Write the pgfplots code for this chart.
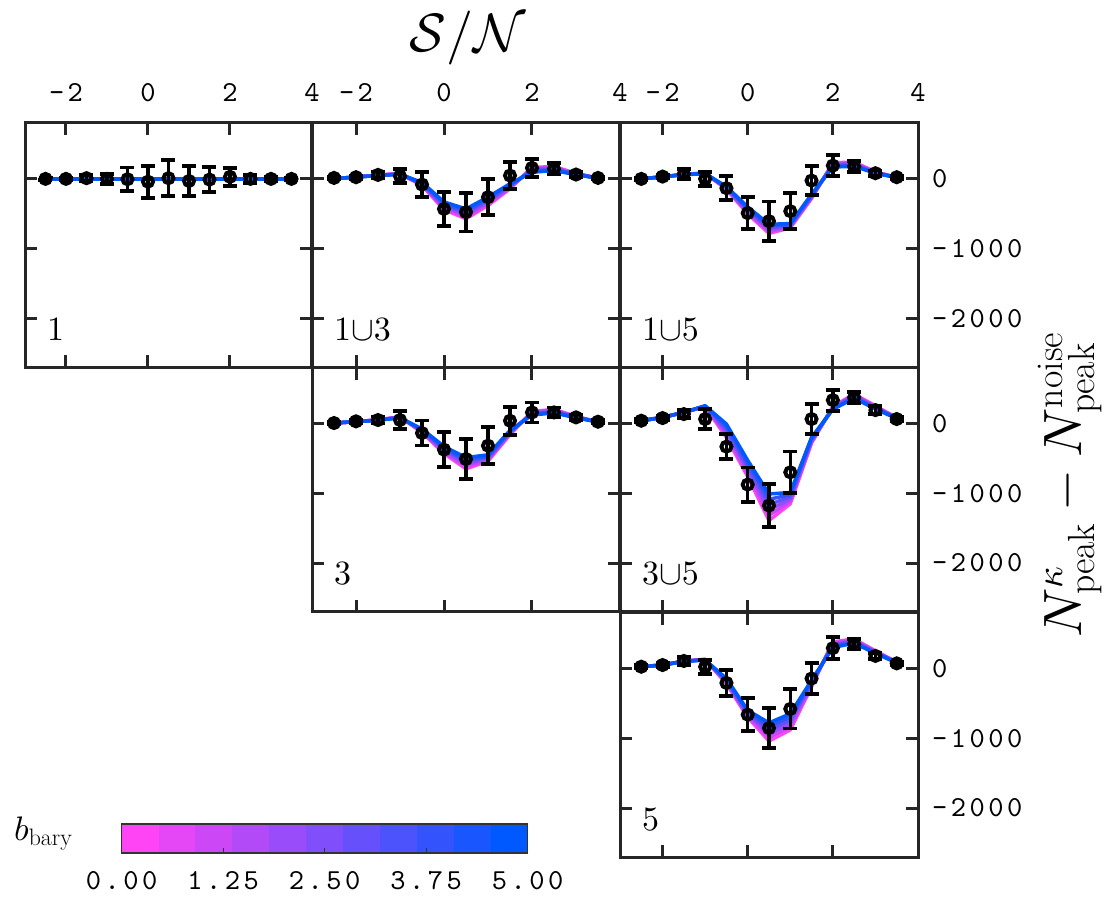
\documentclass[border=0pt]{standalone}
\usepackage{fontspec}
\setmonofont{lmmono10-regular.otf}[LetterSpace=12]
\DeclareFontFamily{OML}{cmm}{\skewchar\font127}
\DeclareFontShape{OML}{cmm}{m}{it}{<->cmmi10}{}
\DeclareFontFamily{OMS}{cmsy}{\skewchar\font48}
\DeclareFontShape{OMS}{cmsy}{m}{n}{<->cmsy10}{}
\DeclareFontFamily{OT1}{cmr}{\hyphenchar\font45}
\DeclareFontShape{OT1}{cmr}{m}{n}{<->cmr10}{}
\usepackage{pgfplots}
\usepackage{pgfplotstable}
\pgfplotsset{compat=1.18}

\definecolor{bmag}{RGB}{255,68,245}
\definecolor{bblue}{RGB}{0,88,255}
\colorlet{c0}{bmag}
\colorlet{c1}{bblue!10!bmag}
\colorlet{c2}{bblue!20!bmag}
\colorlet{c3}{bblue!30!bmag}
\colorlet{c4}{bblue!40!bmag}
\colorlet{c5}{bblue!50!bmag}
\colorlet{c6}{bblue!60!bmag}
\colorlet{c7}{bblue!70!bmag}
\colorlet{c8}{bblue!80!bmag}
\colorlet{c9}{bblue!90!bmag}
\colorlet{c10}{bblue}

\newcommand\ticksfont{\fontsize{29}{29}\selectfont\ttfamily}

% panel 1
\pgfplotstableread{
x y e m0 m1 m2 m3 m4 m5
-2.5 0 20 0 0 0 0 0 0
-2.0 0 20 0 0 0 0 0 0
-1.5 10 40 0 0 0 0 0 0
-1.0 0 70 0 0 0 0 0 0
-0.5 -5 167 0 0 0 0 0 0
0.0 -40 230 0 0 0 0 0 0
0.5 10 257 0 0 0 0 0 0
1.0 -30 220 0 0 0 0 0 0
1.5 -10 180 0 0 0 0 0 0
2.0 30 130 0 0 0 0 0 0
2.5 0 60 0 0 0 0 0 0
3.0 0 25 0 0 0 0 0 0
3.5 0 20 0 0 0 0 0 0
}\tabA
% panel 1 u 3
\pgfplotstableread{
x y e m0 m1 m2 m3 m4 m5
-2.5 14 20 5 5 5 5 5 5
-2.0 24 25 25 25 25 25 25 25
-1.5 57 50 55 54 53 52 51 50
-1.0 38 100 75 73 71 69 67 65
-0.5 -81 180 -95 -86 -77 -68 -59 -50
0.0 -430 245 -440 -418 -396 -374 -352 -330
0.5 -476 276 -570 -542 -514 -486 -458 -430
1.0 -262 257 -380 -356 -332 -308 -284 -260
1.5 48 190 -140 -126 -112 -98 -84 -70
2.0 157 130 165 151 137 123 109 95
2.5 143 80 175 164 153 142 131 120
3.0 62 40 80 76 72 68 64 60
3.5 14 20 10 10 10 10 10 10
}\tabB
% panel 1 u 5
\pgfplotstableread{
x y e m0 m1 m2 m3 m4 m5
-2.5 0 20 0 0 0 0 0 0
-2.0 33 25 30 30 30 30 30 30
-1.5 71 70 65 64 63 62 61 60
-1.0 0 100 85 83 81 79 77 75
-0.5 -133 175 -150 -142 -134 -126 -118 -110
0.0 -490 230 -500 -480 -460 -440 -420 -400
0.5 -605 280 -780 -754 -728 -702 -676 -650
1.0 -462 260 -700 -688 -676 -664 -652 -640
1.5 -24 205 -280 -268 -256 -244 -232 -220
2.0 190 150 230 218 206 194 182 170
2.5 176 80 240 228 216 204 192 180
3.0 81 40 100 96 92 88 84 80
3.5 24 20 20 20 20 20 20 20
}\tabC
% panel 3
\pgfplotstableread{
x y e m0 m1 m2 m3 m4 m5
-2.5 5 20 5 5 5 5 5 5
-2.0 29 25 25 25 25 25 25 25
-1.5 48 50 50 49 48 47 46 45
-1.0 48 125 95 92 89 86 83 80
-0.5 -138 180 -130 -120 -110 -100 -90 -80
0.0 -376 250 -430 -410 -390 -370 -350 -330
0.5 -510 290 -650 -618 -586 -554 -522 -490
1.0 -319 262 -540 -522 -504 -486 -468 -450
1.5 38 200 -160 -148 -136 -124 -112 -100
2.0 157 143 170 160 150 140 130 120
2.5 157 70 200 190 180 170 160 150
3.0 86 40 100 96 92 88 84 80
3.5 24 20 20 20 20 20 20 20
}\tabD
% panel 3 u 5
\pgfplotstableread{
x y e m0 m1 m2 m3 m4 m5
-2.5 38 25 38 38 38 38 38 38
-2.0 76 30 86 86 86 86 86 86
-1.5 133 60 157 157 157 157 157 157
-1.0 62 140 240 242 245 247 250 252
-0.5 -333 181 -200 -162 -124 -86 -48 -10
0.0 -876 245 -760 -714 -668 -622 -576 -530
0.5 -1176 310 -1390 -1314 -1238 -1162 -1086 -1010
1.0 -700 298 -1150 -1118 -1086 -1054 -1022 -990
1.5 62 219 -280 -264 -248 -232 -216 -200
2.0 333 150 240 232 224 216 208 200
2.5 371 80 420 408 396 384 372 360
3.0 190 60 250 241 232 223 214 205
3.5 62 25 80 78 76 74 72 70
}\tabE
% panel 5
\pgfplotstableread{
x y e m0 m1 m2 m3 m4 m5
-2.5 24 20 24 24 24 24 24 24
-2.0 48 25 48 48 48 48 48 48
-1.5 106 60 105 104 103 102 101 100
-1.0 24 100 130 128 126 124 122 120
-0.5 -208 190 -220 -205 -190 -175 -160 -145
0.0 -662 240 -700 -680 -660 -640 -620 -600
0.5 -855 290 -1040 -988 -936 -884 -832 -780
1.0 -580 280 -880 -834 -788 -742 -696 -650
1.5 -145 218 -260 -242 -224 -206 -188 -170
2.0 290 157 380 364 348 332 316 300
2.5 348 70 420 408 396 384 372 360
3.0 179 40 250 243 236 229 222 215
3.5 72 25 90 88 86 84 82 80
}\tabF

\pgfplotsset{
  panel/.style={
    scale only axis, height=244.5pt, anchor=north west,
    xmin=-3, xmax=4, ymin=-2700, ymax=800,
    xtick={-2,0,2,4}, ytick={-2000,-1000,0},
    xticklabels={}, yticklabels={},
    tick align=inside, major tick length=12pt,
    xtick pos=both, ytick pos=both,
    axis line style={line width=3pt, draw=black!85},
    major tick style={line width=3pt, draw=black!85},
    tick label style={font=\ticksfont},
  },
  toplab/.style={xticklabels={-2,0,2,4}, xticklabel pos=upper,
    xticklabel style={anchor=base, inner sep=0pt, yshift=21pt}},
  rightlab/.style={yticklabels={-2000,-1000,0}, yticklabel pos=upper,
    yticklabel style={anchor=west, inner sep=0pt, xshift=14pt}},
  model/.style={line width=3.5pt, line join=round, no marks},
}

\newcommand{\drawpanel}[1]{%
  \addplot[model, c0] table[x=x,y=m0]{#1};
  \addplot[model, c2] table[x=x,y=m1]{#1};
  \addplot[model, c4] table[x=x,y=m2]{#1};
  \addplot[model, c6] table[x=x,y=m3]{#1};
  \addplot[model, c8] table[x=x,y=m4]{#1};
  \addplot[model, c10] table[x=x,y=m5]{#1};
  \addplot[black, only marks, mark=o, mark size=5pt, line width=4pt,
    error bars/.cd, y dir=both, y explicit,
    error bar style={line width=3.5pt, black},
    error mark options={rotate=90, mark size=7pt, line width=3.8pt, black}]
    table[x=x,y=y,y error=e]{#1};
}
\newcommand{\plab}[1]{\node[anchor=base west, inner sep=0pt, font=\fontsize{34}{34}\selectfont]
  at (axis description cs:0,0) [xshift=22pt, yshift=27pt] {#1};}

\begin{document}
\begin{tikzpicture}[x=1pt,y=1pt]
\path[use as bounding box] (0,0) rectangle (1109,-901);

% row 1
\begin{axis}[panel, toplab, width=287pt, at={(25pt,-123pt)}]
\drawpanel{\tabA}
\plab{$1$}
\end{axis}
\begin{axis}[panel, toplab, width=308pt, at={(312pt,-123pt)}]
\drawpanel{\tabB}
\plab{$1{\cup}3$}
\end{axis}
\begin{axis}[panel, toplab, rightlab, width=298pt, at={(620pt,-123pt)}]
\drawpanel{\tabC}
\plab{$1{\cup}5$}
\end{axis}
% row 2
\begin{axis}[panel, width=308pt, at={(312pt,-367.5pt)}]
\drawpanel{\tabD}
\plab{$3$}
\end{axis}
\begin{axis}[panel, rightlab, width=298pt, at={(620pt,-367.5pt)}]
\drawpanel{\tabE}
\plab{$3{\cup}5$}
\end{axis}
% row 3
\begin{axis}[panel, rightlab, width=298pt, at={(620pt,-612.5pt)}]
\drawpanel{\tabF}
\plab{$5$}
\end{axis}

% colorbar
\begin{axis}[scale only axis, anchor=north west, at={(121.6pt,-824pt)},
  width=406pt, height=29pt, xmin=0, xmax=5, ymin=0, ymax=1,
  xtick={0,1.25,2.5,3.75,5}, xticklabels={0.00,1.25,2.50,3.75,5.00},
  ytick=\empty, xtick pos=lower, tick align=inside, major tick length=5pt,
  major tick style={line width=1pt, draw=black!80},
  axis line style={line width=1.3pt, draw=black!80},
  axis on top,
  tick label style={font=\ticksfont},
  xticklabel style={anchor=base, inner sep=0pt, yshift=-36pt}]
\addplot[fill=c0, draw=none] coordinates {(0,0) (0.4555,0) (0.4555,1) (0,1)} -- cycle;
\addplot[fill=c1, draw=none] coordinates {(0.4545,0) (0.9101,0) (0.9101,1) (0.4545,1)} -- cycle;
\addplot[fill=c2, draw=none] coordinates {(0.9091,0) (1.3646,0) (1.3646,1) (0.9091,1)} -- cycle;
\addplot[fill=c3, draw=none] coordinates {(1.3636,0) (1.8192,0) (1.8192,1) (1.3636,1)} -- cycle;
\addplot[fill=c4, draw=none] coordinates {(1.8182,0) (2.2737,0) (2.2737,1) (1.8182,1)} -- cycle;
\addplot[fill=c5, draw=none] coordinates {(2.2727,0) (2.7283,0) (2.7283,1) (2.2727,1)} -- cycle;
\addplot[fill=c6, draw=none] coordinates {(2.7273,0) (3.1828,0) (3.1828,1) (2.7273,1)} -- cycle;
\addplot[fill=c7, draw=none] coordinates {(3.1818,0) (3.6374,0) (3.6374,1) (3.1818,1)} -- cycle;
\addplot[fill=c8, draw=none] coordinates {(3.6364,0) (4.0919,0) (4.0919,1) (3.6364,1)} -- cycle;
\addplot[fill=c9, draw=none] coordinates {(4.0909,0) (4.5465,0) (4.5465,1) (4.0909,1)} -- cycle;
\addplot[fill=c10, draw=none] coordinates {(4.5455,0) (5,0) (5,1) (4.5455,1)} -- cycle;
\end{axis}

\node[anchor=base west, inner sep=0pt, font=\fontsize{34}{34}\selectfont] at (14,-840) {$b_{\rm bary}$};
\node[anchor=base, inner sep=0pt, font=\fontsize{54}{54}\selectfont] at (468,-52) {$\mathcal{S}/\mathcal{N}$};
\node[rotate=90, inner sep=0pt, font=\fontsize{54}{54}\selectfont] at (1070,-485) {$N^{\kappa}_{\rm peak} - N^{\rm noise}_{\rm peak}$};
\end{tikzpicture}
\end{document}
